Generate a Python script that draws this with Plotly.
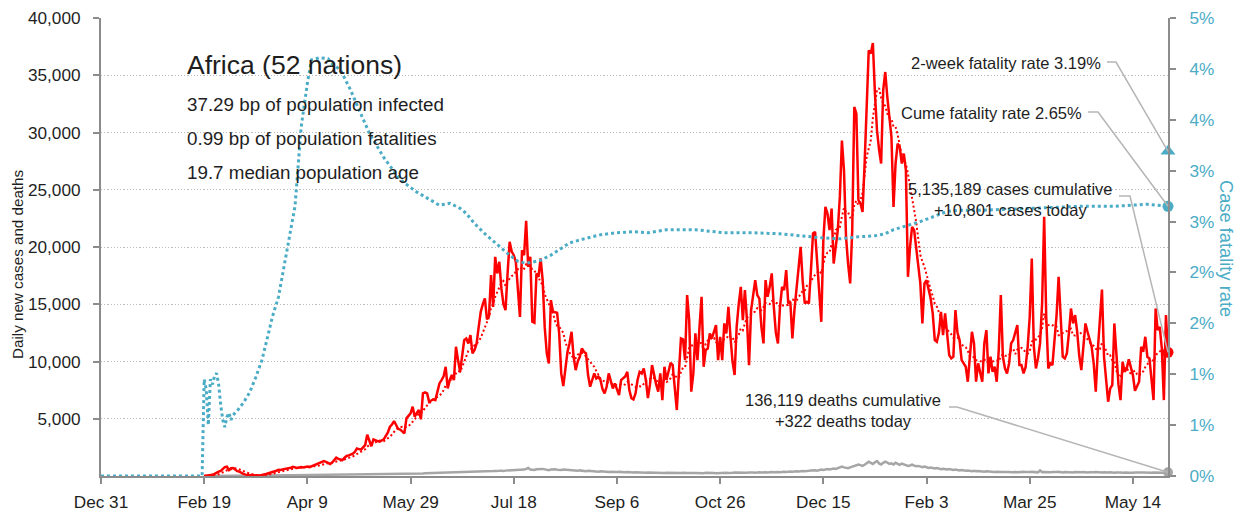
import pandas as pd
import plotly.graph_objects as go

# ---------------------------------------------------------------- data
REGION = "Africa (52 nations)"
STATS = [
    "37.29 bp of population infected",
    "0.99 bp of population fatalities",
    "19.7 median population age",
]

AXIS_START = "2019-12-31"
AXIS_END = "2021-05-31"
SERIES_START = "2020-02-19"

# daily new cases, one value per day from SERIES_START
cases = [
    0, 20, 40, 60, 100, 180, 300, 380, 450, 600,
    780, 810, 520, 680, 700, 560, 420, 380, 250, 180,
    120, 100, 60, 40, 30, 30, 35, 40, 60, 140,
    170, 220, 260, 300, 380, 460, 540, 520, 580, 620,
    600, 650, 720, 800, 760, 700, 740, 780, 740, 800,
    820, 780, 850, 900, 960, 1050, 1120, 1200, 1300, 1240,
    1150, 1050, 1180, 1350, 1600, 1500, 1420, 1400, 1600, 1750,
    1800, 1850, 1950, 2100, 2400, 2350, 2300, 2500, 2700, 3600,
    3100, 2600, 3200, 3100, 3050, 3000, 3100, 3200, 3500, 3800,
    4300, 4500, 4800, 4400, 4100, 4050, 3900, 3725, 5035, 5300,
    5470, 6050, 5175, 5500, 5760, 4950, 7215, 7300, 7215, 6485,
    6600, 6700, 6630, 7400, 8090, 8380, 8700, 9540, 7650, 8400,
    8815, 8380, 11285, 10125, 9100, 10500, 11870, 12015, 11580, 12305,
    10705, 11000, 11580, 13000, 14340, 15000, 15505, 13675, 13960, 17540,
    14775, 19140, 17690, 18705, 16380, 15000, 14485, 17690, 20450, 19600,
    19285, 18705, 16230, 13900, 19720, 19285, 22280, 18265, 19140, 13465,
    13375, 17690, 17400, 19000, 17105, 13000, 10705, 9835, 15360, 14340,
    14300, 14255, 12455, 8960, 7855, 9540, 10800, 11580, 12595, 10415,
    9250, 10000, 10415, 11140, 10850, 10705, 8815, 7795, 8500, 8960,
    8525, 8670, 8380, 7600, 7215, 7795, 8960, 8235, 7650, 8090,
    7600, 7070, 8380, 8525, 8700, 9100, 7505, 6800, 6690, 7215,
    8400, 9100, 8960, 9395, 8380, 6800, 8000, 9685, 8665, 8000,
    7360, 8960, 6630, 9540, 8380, 9100, 9890, 9685, 8000, 5760,
    9000, 12015, 11940, 10125, 15795, 13615, 7360, 8960, 12455, 10125,
    13000, 15650, 9540, 11000, 11140, 12455, 12015, 12600, 13180, 10125,
    12160, 10125, 13325, 12455, 14775, 12160, 10000, 8815, 13030, 15000,
    16520, 13615, 16230, 13615, 9685, 14485, 15800, 17105, 15795, 15500,
    13000, 11580, 17105, 15650, 16500, 17690, 14775, 12500, 11580, 14775,
    16520, 16230, 17980, 15070, 15215, 12015, 14500, 16230, 18265, 20010,
    17000, 15070, 15215, 15070, 18000, 21180, 21320, 18560, 16230, 13465,
    20595, 23500, 22925, 21470, 23360, 18560, 20000, 21470, 24375, 29300,
    26700, 20880, 18500, 16815, 21470, 32230, 31650, 24085, 23800, 23065,
    27290, 33100, 37180, 36890, 37815, 33400, 30195, 28500, 27290, 33690,
    35285, 33100, 31000, 29610, 23500, 27290, 29035, 28740, 27290, 28160,
    26700, 17395, 20000, 21760, 21470, 19720, 18000, 16815, 13325, 16815,
    17105, 16380, 15500, 14200, 11870, 11720, 12500, 14340, 12305, 14200,
    12455, 10560, 10270, 10415, 14485, 12500, 11870, 10125, 9835, 9540,
    8235, 10705, 12595, 11580, 8235, 9835, 8960, 8235, 11580, 12740,
    8960, 10415, 9100, 9540, 8235, 11000, 15795, 10415, 9395, 8960,
    9835, 11580, 11870, 12500, 13180, 9685, 9685, 8960, 9500, 11285,
    13900, 19000, 11285, 9395, 10270, 11580, 15070, 22630, 13900, 9395,
    9835, 9685, 11870, 14000, 17395, 14200, 10415, 10270, 10705, 12500,
    14630, 13325, 14050, 12595, 10500, 9250, 11285, 13325, 12595, 12000,
    11285, 9835, 7360, 11000, 13500, 16290, 10415, 8380, 6485, 7650,
    7940, 13325, 10125, 8000, 6630, 9975, 9100, 9395, 10185, 9500,
    8815, 7445, 7800, 8235, 11285, 10850, 12160, 10415, 10270, 8525,
    6630, 14630, 12740, 13030, 11140, 6630, 14050, 10801,
]

# daily deaths, one value per day from SERIES_START
deaths = [
    0, 0, 0, 0, 0, 0, 1, 1, 1, 2,
    2, 2, 3, 3, 4, 5, 6, 8, 10, 12,
    14, 16, 18, 20, 22, 24, 26, 28, 30, 33,
    35, 38, 40, 42, 45, 48, 50, 52, 55, 58,
    60, 62, 65, 68, 70, 72, 75, 78, 80, 82,
    85, 80, 88, 92, 95, 90, 98, 100, 96, 105,
    110, 102, 108, 115, 120, 112, 118, 125, 130, 122,
    128, 135, 140, 132, 138, 145, 150, 142, 155, 160,
    150, 158, 165, 170, 160, 168, 175, 180, 172, 185,
    190, 178, 195, 200, 188, 205, 210, 195, 215, 220,
    205, 225, 230, 215, 235, 240, 225, 245, 250, 235,
    255, 260, 245, 270, 275, 258, 280, 285, 270, 295,
    300, 285, 310, 320, 300, 330, 340, 318, 350, 360,
    340, 370, 380, 355, 390, 400, 375, 410, 420, 395,
    430, 440, 415, 450, 460, 430, 470, 480, 445, 490,
    500, 470, 520, 540, 500, 560, 620, 700, 560, 540,
    520, 580, 600, 560, 620, 580, 540, 500, 560, 600,
    580, 540, 500, 520, 560, 540, 500, 480, 520, 500,
    470, 450, 490, 460, 440, 420, 450, 430, 400, 420,
    400, 380, 410, 390, 370, 390, 360, 380, 350, 370,
    340, 360, 330, 350, 320, 340, 310, 330, 300, 320,
    300, 310, 290, 300, 280, 300, 290, 270, 290, 280,
    270, 290, 280, 260, 280, 270, 260, 280, 270, 250,
    270, 260, 280, 250, 270, 260, 240, 260, 270, 250,
    260, 270, 250, 280, 260, 240, 270, 260, 250, 270,
    280, 260, 270, 290, 270, 250, 280, 300, 290, 270,
    300, 310, 290, 280, 300, 320, 310, 290, 330, 320,
    310, 340, 330, 300, 350, 340, 320, 360, 350, 330,
    380, 370, 350, 400, 390, 370, 420, 410, 390, 440,
    430, 410, 460, 450, 480, 520, 500, 470, 540, 560,
    530, 580, 600, 570, 620, 650, 610, 680, 700, 820,
    750, 700, 680, 760, 820, 860, 900, 1000, 950, 880,
    980, 1100, 1250, 1150, 1050, 1200, 1300, 1100, 1000, 1150,
    1250, 1180, 1050, 1100, 1000, 1150, 1050, 980, 1080, 1000,
    950, 880, 920, 1000, 900, 850, 880, 800, 760, 820,
    780, 700, 740, 680, 650, 700, 620, 600, 640, 580,
    560, 600, 540, 520, 560, 500, 480, 520, 460, 450,
    480, 440, 420, 460, 410, 430, 400, 420, 380, 410,
    390, 370, 400, 360, 380, 350, 370, 340, 360, 380,
    350, 330, 360, 340, 320, 350, 330, 360, 340, 320,
    340, 360, 330, 350, 320, 480, 340, 350, 330, 310,
    330, 350, 320, 340, 360, 330, 310, 340, 320, 350,
    330, 310, 340, 320, 300, 330, 350, 320, 310, 330,
    300, 320, 340, 310, 330, 300, 320, 290, 310, 330,
    300, 280, 310, 330, 300, 290, 320, 300, 280, 310,
    290, 300, 320, 280, 300, 310, 290, 270, 300, 280,
    300, 290, 270, 310, 290, 280, 300, 322,
]

# cumulative case fatality rate, percent
cfr_dates = [
    "2019-12-31", "2020-02-18", "2020-02-19", "2020-02-20", "2020-02-21",
    "2020-02-22", "2020-02-23", "2020-02-24", "2020-02-25", "2020-02-26",
    "2020-02-27", "2020-02-28", "2020-02-29", "2020-03-01", "2020-03-02",
    "2020-03-03", "2020-03-04", "2020-03-06", "2020-03-09", "2020-03-12",
    "2020-03-15", "2020-03-18", "2020-03-21", "2020-03-23", "2020-03-26",
    "2020-03-28", "2020-03-30", "2020-04-01", "2020-04-03", "2020-04-06",
    "2020-04-09", "2020-04-11", "2020-04-15", "2020-04-19", "2020-04-21",
    "2020-04-25", "2020-04-30", "2020-05-04", "2020-05-09", "2020-05-16",
    "2020-05-24", "2020-06-01", "2020-06-08", "2020-06-12", "2020-06-17",
    "2020-06-22", "2020-06-25", "2020-06-29", "2020-07-04", "2020-07-09",
    "2020-07-13", "2020-07-16", "2020-07-20", "2020-07-24", "2020-07-27",
    "2020-07-31", "2020-08-05", "2020-08-10", "2020-08-14", "2020-08-21",
    "2020-08-29", "2020-09-06", "2020-09-14", "2020-09-21", "2020-09-30",
    "2020-10-14", "2020-10-28", "2020-11-10", "2020-11-24", "2020-12-04",
    "2020-12-14", "2020-12-23", "2021-01-01", "2021-01-09", "2021-01-14",
    "2021-01-18", "2021-01-23", "2021-01-27", "2021-01-31", "2021-02-04",
    "2021-02-08", "2021-02-13", "2021-02-18", "2021-03-01", "2021-03-26",
    "2021-04-19", "2021-05-05", "2021-05-21", "2021-05-31",
]
cfr_pct = [
    0.00, 0.00, 0.95, 0.85, 0.50,
    0.95, 0.90, 0.98, 1.01, 0.90,
    0.70, 0.55, 0.48, 0.58, 0.62,
    0.55, 0.60, 0.64, 0.72, 0.82,
    0.97, 1.14, 1.39, 1.56, 1.76,
    1.98, 2.19, 2.42, 2.65, 3.43,
    3.86, 4.09, 4.11, 4.10, 4.05,
    3.99, 3.79, 3.60, 3.37, 3.13,
    2.91, 2.79, 2.71, 2.66, 2.68,
    2.63, 2.58, 2.48, 2.38, 2.29,
    2.22, 2.17, 2.11, 2.09, 2.10,
    2.12, 2.17, 2.24, 2.29, 2.33,
    2.37, 2.39, 2.40, 2.39, 2.42,
    2.42, 2.39, 2.39, 2.38, 2.36,
    2.34, 2.33, 2.35, 2.36, 2.38,
    2.42, 2.45, 2.47, 2.50, 2.53,
    2.56, 2.60, 2.61, 2.61, 2.63,
    2.65, 2.65, 2.67, 2.65,
]

two_week_cfr = 3.19
cume_cfr = 2.65
cum_cases = 5135189
cum_deaths = 136119

tick_dates = [
    "2019-12-31", "2020-02-19", "2020-04-09", "2020-05-29", "2020-07-18",
    "2020-09-06", "2020-10-26", "2020-12-15", "2021-02-03", "2021-03-25",
    "2021-05-14",
]
tick_labels = [
    "Dec 31", "Feb 19", "Apr 9", "May 29", "Jul 18", "Sep 6",
    "Oct 26", "Dec 15", "Feb 3", "Mar 25", "May 14",
]
left_ticks = [5000, 10000, 15000, 20000, 25000, 30000, 35000, 40000]
right_ticks = [0, 0.5, 1.0, 1.5, 2.0, 2.5, 3.0, 3.5, 4.0, 4.5]
right_tick_labels = ["0%", "1%", "1%", "2%", "2%", "3%", "3%", "4%", "4%", "5%"]

# ---------------------------------------------------------------- style
FONT = "Liberation Sans, Arial, sans-serif"
RED = "#ff0000"
BLUE = "#4bacc6"
GREY = "#a6a6a6"
AXIS = "#8c8c8c"
LEADER = "#b5b5b5"
INK = "#1e1e1e"

W, H = 1246, 516
ML, MR, MT, MB = 101, 78, 18, 40
Y1_MAX, Y2_MAX = 40000, 4.5


def fx(px):
    return (px - ML) / (W - ML - MR)


def fy(py):
    return (H - MB - py) / (H - MT - MB)


case_dates = pd.date_range(SERIES_START, periods=len(cases), freq="D")
death_dates = pd.date_range(SERIES_START, periods=len(deaths), freq="D")
avg7 = pd.Series(cases).rolling(7, min_periods=1).mean()
last_date = case_dates[-1]

fig = go.Figure()

fig.add_trace(go.Scatter(x=death_dates, y=deaths, mode="lines",
                         line=dict(color=GREY, width=2.5)))
fig.add_trace(go.Scatter(x=case_dates, y=cases, mode="lines",
                         line=dict(color=RED, width=2.5)))
fig.add_trace(go.Scatter(x=case_dates, y=avg7, mode="lines",
                         line=dict(color=RED, width=2, dash="2px,2.5px")))
fig.add_trace(go.Scatter(x=cfr_dates, y=cfr_pct, mode="lines", yaxis="y2",
                         line=dict(color=BLUE, width=3, dash="3px,3px")))

# end-of-series markers
fig.add_trace(go.Scatter(x=[death_dates[-1]], y=[deaths[-1]], mode="markers",
                         marker=dict(color=GREY, size=10), cliponaxis=False))
fig.add_trace(go.Scatter(x=[last_date], y=[cases[-1]], mode="markers",
                         marker=dict(color=RED, size=11), cliponaxis=False))
fig.add_trace(go.Scatter(x=[last_date], y=[cume_cfr], mode="markers", yaxis="y2",
                         marker=dict(color=BLUE, size=11), cliponaxis=False))
fig.add_trace(go.Scatter(x=[last_date], y=[two_week_cfr], mode="markers", yaxis="y2",
                         marker=dict(color=BLUE, size=13, symbol="triangle-up"),
                         cliponaxis=False))

annotations = [
    dict(text=REGION, x=fx(185), y=fy(65), xanchor="left", yanchor="middle",
         font=dict(size=26.5, color=INK)),
]
for i, line in enumerate(STATS):
    annotations.append(dict(text=line, x=fx(185), y=fy(104 + 34.5 * i),
                            xanchor="left", yanchor="middle",
                            font=dict(size=18.8, color=INK)))

annotations += [
    dict(text=f"2-week fatality rate {two_week_cfr:.2f}%", x=fx(1103), y=fy(63),
         xanchor="right", yanchor="middle", font=dict(size=16.5, color=INK)),
    dict(text=f"Cume fatality rate {cume_cfr:.2f}%", x=fx(1084), y=fy(113),
         xanchor="right", yanchor="middle", font=dict(size=16.5, color=INK)),
    dict(text=f"{cum_cases:,} cases cumulative<br>+{cases[-1]:,} cases today",
         x=fx(1010), y=fy(199), xanchor="center", yanchor="middle",
         align="center", font=dict(size=16.5, color=INK)),
    dict(text=f"{cum_deaths:,} deaths cumulative<br>+{deaths[-1]:,} deaths today",
         x=fx(843), y=fy(410), xanchor="center", yanchor="middle",
         align="center", font=dict(size=16.5, color=INK)),
    dict(text="Daily new cases and deaths", x=fx(17), y=fy(264), textangle=-90,
         xanchor="center", yanchor="middle", font=dict(size=15.2, color=INK)),
    dict(text="Case fatality rate", x=fx(1226), y=fy(248), textangle=90,
         xanchor="center", yanchor="middle", font=dict(size=18.3, color=BLUE)),
]
for a in annotations:
    a.update(xref="paper", yref="paper", showarrow=False)


def leader(px0, py0, px1, end_y):
    return dict(type="path", xref="paper", yref="paper",
                path=f"M {fx(px0)},{fy(py0)} L {fx(px1)},{fy(py0)} L 1,{end_y}",
                line=dict(color=LEADER, width=1.5))


shapes = [
    leader(1107, 62, 1116, two_week_cfr / Y2_MAX),
    leader(1088, 112, 1098, cume_cfr / Y2_MAX),
    leader(1119, 196, 1130, cases[-1] / Y1_MAX),
    leader(949, 407, 957, deaths[-1] / Y1_MAX),
]

fig.update_layout(
    width=W, height=H,
    margin=dict(l=ML, r=MR, t=MT, b=MB, pad=0, autoexpand=False),
    paper_bgcolor="white", plot_bgcolor="white",
    showlegend=False,
    font=dict(family=FONT, size=17, color=INK),
    xaxis=dict(
        range=[AXIS_START, AXIS_END], tickvals=tick_dates, ticktext=tick_labels,
        automargin=False,
        showgrid=False, zeroline=False, showline=True, linecolor=AXIS, linewidth=2,
        ticks="outside", ticklen=6, tickwidth=1.5, tickcolor=AXIS,
        ticklabelstandoff=3, tickfont=dict(size=17.2, color=INK),
    ),
    yaxis=dict(
        range=[0, Y1_MAX], tickvals=left_ticks,
        ticktext=[f"{v:,}" for v in left_ticks], automargin=False,
        showgrid=True, gridcolor="#bdbdbd", griddash="1.2px,2px", gridwidth=1.2,
        zeroline=False, showline=True, linecolor=AXIS, linewidth=2,
        ticks="outside", ticklen=6, tickwidth=1.5, tickcolor=AXIS,
        ticklabelstandoff=9, tickfont=dict(size=17.2, color=INK),
    ),
    yaxis2=dict(
        overlaying="y", side="right", range=[0, Y2_MAX], automargin=False,
        tickvals=right_ticks, ticktext=right_tick_labels,
        showgrid=False, zeroline=False, showline=True, linecolor=AXIS, linewidth=2,
        ticks="outside", ticklen=6, tickwidth=1.5, tickcolor=AXIS,
        ticklabelstandoff=10, tickfont=dict(size=17.2, color=BLUE),
    ),
    annotations=annotations,
    shapes=shapes,
)

fig.write_html("out.html")
